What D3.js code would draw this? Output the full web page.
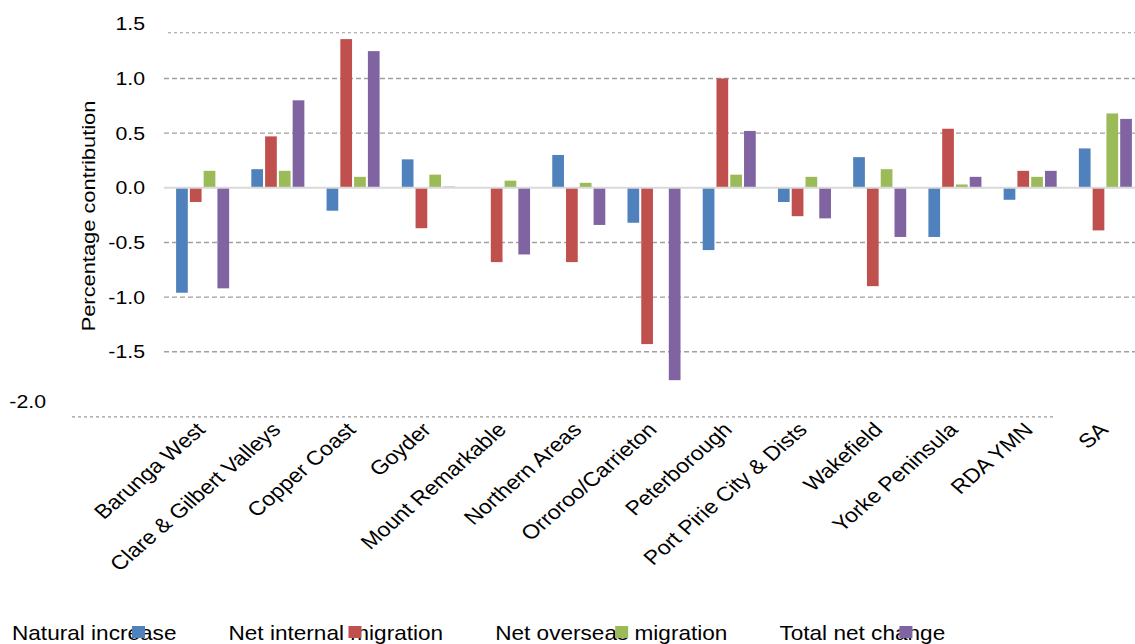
<!DOCTYPE html>
<html>
<head>
<meta charset="utf-8">
<script src="https://cdn.jsdelivr.net/npm/d3@7"></script>
<style>
  body { margin: 0; background: #fff; }
  text { font-family: "Liberation Sans", Arial, sans-serif; fill: #000; }
</style>
</head>
<body>
<div id="chart"></div>
<script>
// data
const regions = ["Barunga West", "Clare & Gilbert Valleys", "Copper Coast", "Goyder",
  "Mount Remarkable", "Northern Areas", "Orroroo/Carrieton", "Peterborough",
  "Port Pirie City & Dists", "Wakefield", "Yorke Peninsula", "RDA YMN", "SA"];
const seriesNames = ["Natural increase", "Net internal migration", "Net overseas migration", "Total net change"];
const seriesColors = ["#4f81bd", "#c0504d", "#9bbb59", "#8064a2"];
const naturalIncrease = [-0.96, 0.17, -0.21, 0.26, 0.0, 0.30, -0.32, -0.57, -0.13, 0.28, -0.45, -0.11, 0.36];
const netInternal = [-0.13, 0.47, 1.36, -0.37, -0.68, -0.68, -1.43, 1.00, -0.26, -0.90, 0.54, 0.155, -0.39];
const netOverseas = [0.155, 0.155, 0.10, 0.12, 0.065, 0.045, 0.0, 0.12, 0.10, 0.17, 0.03, 0.10, 0.68];
const totalNet = [-0.92, 0.80, 1.25, 0.01, -0.61, -0.34, -1.76, 0.52, -0.28, -0.45, 0.10, 0.155, 0.63];
const yTicks = [1.5, 1.0, 0.5, 0.0, -0.5, -1.0, -1.5, -2.0];
const yTitle = "Percentage contribution";

const allSeries = [naturalIncrease, netInternal, netOverseas, totalNet];

const width = 1135, height = 644;
const stretch = 1.15; // the original is a bit wider than tall

const svg = d3.select("#chart")
  .append("svg")
  .attr("width", width)
  .attr("height", height);

// scales
const x0 = d3.scaleBand().domain(regions).range([165, 1143])
  .paddingInner(0.295).paddingOuter(0.1475);
const x1 = d3.scaleBand().domain(seriesNames).range([0, x0.bandwidth()]).paddingInner(0.15);
const y = d3.scaleLinear().domain([-2, 1.5]).range([406.4, 23.8]);
const color = d3.scaleOrdinal().domain(seriesNames).range(seriesColors);

// gridlines (middle ones)
const grid = svg.append("g").attr("class", "grid");
grid.selectAll("line.mid")
  .data(yTicks.filter(d => d !== 0 && d !== 1.5 && d !== -2))
  .enter().append("line")
  .attr("class", "mid")
  .attr("x1", 164).attr("x2", width)
  .attr("y1", d => y(d)).attr("y2", d => y(d))
  .attr("stroke", "#a0a0a0")
  .attr("stroke-width", 1.4)
  .attr("stroke-dasharray", "5,3");

// top and bottom lines sit a little below their labels in the original
grid.append("line")
  .attr("x1", 168).attr("x2", width)
  .attr("y1", y(1.5) + 9).attr("y2", y(1.5) + 9)
  .attr("stroke", "#9a9a9a").attr("stroke-width", 1.1)
  .attr("stroke-dasharray", "3,3");
grid.append("line")
  .attr("x1", 72).attr("x2", 1053)
  .attr("y1", y(-2) + 10.5).attr("y2", y(-2) + 10.5)
  .attr("stroke", "#9a9a9a").attr("stroke-width", 1.1)
  .attr("stroke-dasharray", "3,3");

// bars
const groups = svg.selectAll(".region")
  .data(regions)
  .enter().append("g")
  .attr("class", "region")
  .attr("transform", d => "translate(" + x0(d) + ",0)");

groups.selectAll("rect")
  .data((d, i) => seriesNames.map((s, j) => ({ key: s, value: allSeries[j][i] })))
  .enter().append("rect")
  .attr("x", d => x1(d.key))
  .attr("width", x1.bandwidth())
  .attr("y", d => y(Math.max(0, d.value)))
  .attr("height", d => Math.abs(y(d.value) - y(0)))
  .attr("fill", d => color(d.key));

// zero line on top of the bars
svg.append("line")
  .attr("x1", 164).attr("x2", width)
  .attr("y1", y(0)).attr("y2", y(0))
  .attr("stroke", "#d9d9d9")
  .attr("stroke-width", 2.2);

// y axis labels
const yAxis = d3.axisLeft(y)
  .tickValues(yTicks.filter(d => d !== -2))
  .tickSize(0).tickPadding(0)
  .tickFormat(d => d.toFixed(1));

const ya = svg.append("g")
  .attr("transform", "translate(145,0)")
  .call(yAxis);
ya.select(".domain").remove();
ya.selectAll("text")
  .attr("fill", "#000")
  .attr("font-family", null)
  .style("font-size", "18.5px")
  .attr("transform", "scale(" + stretch + ",1)");

// -2.0 label is pushed far left in the original
svg.append("text")
  .attr("transform", "translate(46," + (y(-2) - 4) + ") scale(" + stretch + ",1)")
  .attr("text-anchor", "end")
  .attr("dy", "0.32em")
  .style("font-size", "18.5px")
  .text(yTicks[yTicks.length - 1].toFixed(1));

// y title
svg.append("text")
  .attr("transform", "translate(95,216) rotate(-90) scale(" + stretch + ",1)")
  .attr("text-anchor", "middle")
  .style("font-size", "19px")
  .text(yTitle);

// category labels
svg.selectAll(".cat")
  .data(regions)
  .enter().append("text")
  .attr("class", "cat")
  .attr("transform", d => "translate(" + (x0(d) + x0.bandwidth() / 2 + 4) + ",431) scale(" + stretch + ",1) rotate(-45)")
  .attr("text-anchor", "end")
  .style("font-size", "20px")
  .text(d => d);

// legend: swatch drawn over the text, like the original
const legendScale = 1.13;
const legend = svg.append("g").attr("class", "legend");
let lx = 12;
seriesNames.forEach((name, i) => {
  const t = legend.append("text")
    .attr("transform", "translate(" + lx + ",640) scale(" + legendScale + ",1)")
    .style("font-size", "20px")
    .text(name);
  legend.append("rect")
    .attr("x", lx + 120)
    .attr("y", 626)
    .attr("width", 13)
    .attr("height", 12)
    .attr("fill", seriesColors[i]);
  lx += t.node().getComputedTextLength() * legendScale + 52;
});
</script>
</body>
</html>
